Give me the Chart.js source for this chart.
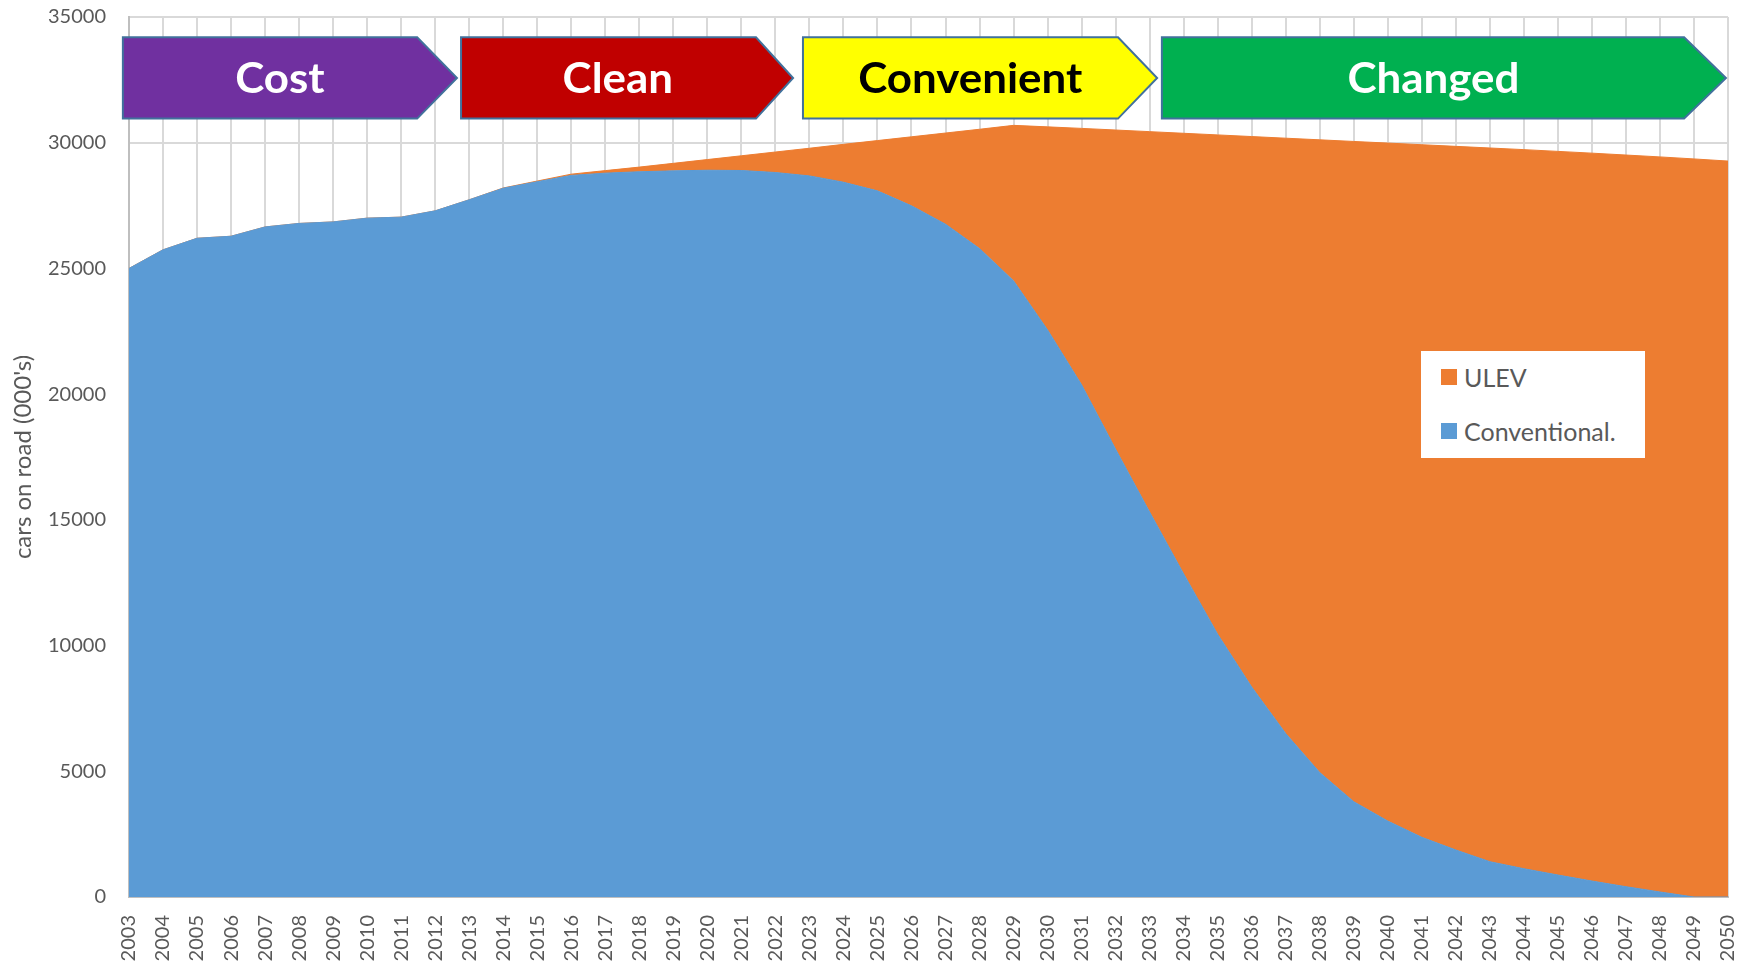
<!DOCTYPE html>
<html><head><meta charset="utf-8">
<script src="https://cdn.jsdelivr.net/npm/chart.js@4.4.1/dist/chart.umd.min.js"></script>
<style>
html,body{margin:0;padding:0;background:#fff;}
#wrap{position:relative;width:1746px;height:965px;}
#legend{position:absolute;left:1421px;top:351px;width:224px;height:107px;background:#fff;font-family:Lato,sans-serif;font-size:25px;color:#595959;}
.item{position:absolute;left:20px;height:28px;display:flex;align-items:center;white-space:nowrap;}
.sw{width:16px;height:16px;margin-right:7px;flex:none;}
</style></head><body>
<div id="wrap"><canvas id="c" width="1746" height="965"></canvas><div id="legend"></div></div>
<script>
// ---- data ----
const years = ['2003','2004','2005','2006','2007','2008','2009','2010','2011','2012','2013','2014','2015','2016','2017','2018','2019','2020','2021','2022','2023','2024','2025','2026','2027','2028','2029','2030','2031','2032','2033','2034','2035','2036','2037','2038','2039','2040','2041','2042','2043','2044','2045','2046','2047','2048','2049','2050'];
const conventional = [25000,25740,26200,26280,26650,26790,26850,27000,27040,27290,27730,28190,28450,28700,28790,28845,28880,28905,28895,28815,28680,28430,28085,27490,26760,25790,24505,22555,20370,17810,15310,12850,10450,8350,6500,4950,3790,3020,2375,1870,1405,1125,875,635,410,200,0,0];
const ulev = [0,0,0,0,0,0,0,0,0,0,0,10,25,50,100,185,300,425,585,815,1100,1505,2000,2745,3625,4745,6185,8075,10200,12695,15130,17525,19860,21895,23680,25165,26260,26965,27545,27985,28385,28600,28780,28950,29100,29235,29355,29270];
const seriesNames = ['Conventional.', 'ULEV'];
const yTickValues = [0,5000,10000,15000,20000,25000,30000,35000];
const yTitle = "cars on road (000's)";
const phases = ['Cost','Clean','Convenient','Changed'];

// ---- layout / style (not data) ----
const phaseFill = ['#7030A0','#C00000','#FFFF00','#00B050'];
const phaseTextColor = ['#FFFFFF','#FFFFFF','#000000','#FFFFFF'];
const phaseStart = [-0.18, 9.76, 19.81, 30.36];
const phaseBodyEnd = [8.47, 18.43, 29.07, 45.71];
const phaseTip = [9.64, 19.52, 30.22, 46.94];
const phaseTopVal = 34190, phaseBottomVal = 30960;

const arrowPlugin = {
  id: 'phaseArrows',
  afterDraw(chart) {
    const ctx = chart.ctx, xs = chart.scales.x, ys = chart.scales.y;
    const T = ys.getPixelForValue(phaseTopVal), B = ys.getPixelForValue(phaseBottomVal);
    const M = (T + B) / 2;
    ctx.save();
    ctx.font = 'bold 42px Lato';
    const sx = 224 / ctx.measureText('Convenient').width;
    phases.forEach((name, i) => {
      const L = xs.getPixelForValue(phaseStart[i]);
      const E = xs.getPixelForValue(phaseBodyEnd[i]);
      const P = xs.getPixelForValue(phaseTip[i]);
      ctx.beginPath();
      ctx.moveTo(L, T); ctx.lineTo(E, T); ctx.lineTo(P, M); ctx.lineTo(E, B); ctx.lineTo(L, B); ctx.closePath();
      ctx.fillStyle = phaseFill[i]; ctx.fill();
      ctx.lineWidth = 2; ctx.strokeStyle = '#41719C'; ctx.lineJoin = 'miter'; ctx.stroke();
      const cx = (L + (E + P) / 2) / 2;
      ctx.save();
      ctx.translate(cx, M + 15);
      ctx.scale(sx, 1);
      ctx.fillStyle = phaseTextColor[i];
      ctx.textAlign = 'center'; ctx.textBaseline = 'alphabetic';
      ctx.fillText(name, 0, 0);
      ctx.restore();
    });
    ctx.restore();
  }
};

const gridColor = '#d9d9d9';
const labelColor = '#595959';

const chart = new Chart(document.getElementById('c'), {
  type: 'line',
  data: {
    labels: years,
    datasets: [
      { label: seriesNames[0], data: conventional, backgroundColor: '#5B9BD5', borderColor: '#5B9BD5', borderWidth: 1, fill: 'origin', pointRadius: 0, tension: 0 },
      { label: seriesNames[1], data: ulev, backgroundColor: '#ED7D31', borderColor: '#ED7D31', borderWidth: 1, fill: '-1', pointRadius: 0, tension: 0 }
    ]
  },
  options: {
    responsive: false,
    animation: false,
    devicePixelRatio: 1,
    layout: { padding: { left: 0, top: 17, right: 18, bottom: 0 } },
    plugins: { legend: { display: false }, tooltip: { enabled: false } },
    scales: {
      x: {
        offset: false,
        grid: { color: gridColor, lineWidth: 2, drawTicks: false },
        border: { color: '#bfbfbf', width: 2 },
        ticks: { autoSkip: false, maxRotation: 90, minRotation: 90, padding: 18, color: labelColor, font: { family: 'Lato', size: 20 } },
        afterFit(s) { s.height = 68; s.paddingLeft = 0; s.paddingRight = 0; s.paddingTop = 0; s.paddingBottom = 0; }
      },
      y: {
        stacked: true,
        min: 0, max: 35000,
        afterBuildTicks(s) { s.ticks = yTickValues.map(v => ({ value: v })); },
        grid: { color: gridColor, lineWidth: 2, drawTicks: false },
        border: { color: '#bfbfbf', width: 2 },
        ticks: { padding: 23, color: labelColor, font: { family: 'Lato', size: 20 }, callback: v => String(v) },
        title: { display: true, text: yTitle, color: labelColor, font: { family: 'Lato', size: 24 }, padding: { top: 9, bottom: 0 } },
        afterFit(s) { s.width = 129; s.paddingLeft = 0; s.paddingRight = 0; s.paddingTop = 0; s.paddingBottom = 0; }
      }
    }
  },
  plugins: [arrowPlugin]
});

// legend (HTML), built from chart datasets, ULEV first as in the reference
const legendEl = document.getElementById('legend');
const itemTops = [12, 66];
chart.data.datasets.slice().reverse().forEach((ds, i) => {
  const it = document.createElement('div');
  it.className = 'item';
  it.style.top = itemTops[i] + 'px';
  const sw = document.createElement('span');
  sw.className = 'sw';
  sw.style.background = ds.backgroundColor;
  const tx = document.createElement('span');
  tx.textContent = ds.label;
  it.appendChild(sw); it.appendChild(tx);
  legendEl.appendChild(it);
});
</script>
</body></html>
